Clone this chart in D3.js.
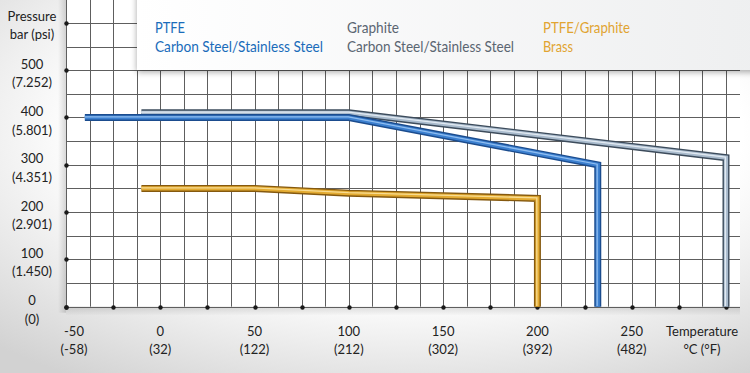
<!DOCTYPE html>
<html>
<head>
<meta charset="utf-8">
<script src="https://cdn.jsdelivr.net/npm/d3@7"></script>
<style>
  body { margin: 0; background: #fff; }
  svg { display: block; font-family: Lato, "Open Sans", sans-serif; }
</style>
</head>
<body>
<svg id="chart" width="750" height="373"></svg>
<script>
// tick labels
var tempTicks = [-50, 0, 50, 100, 150, 200, 250];
var tempF = ["(-58)", "(32)", "(122)", "(212)", "(302)", "(392)", "(482)"];
var pressTicks = [0, 100, 200, 300, 400, 500];
var pressPsi = ["(0)", "(1.450)", "(2.901)", "(4.351)", "(5.801)", "(7.252)"];

// series (temperature in C, pressure in bar)
var ptfeTemp = [-40, 100, 232, 232];
var ptfePress = [400, 400, 300, 0];
var graphiteTemp = [-10, 100, 300, 300];
var graphitePress = [410, 410, 315, 0];
var brassTemp = [-10, 50, 100, 200, 200];
var brassPress = [250, 250, 240, 229, 0];

var legendTitles = ["PTFE", "Graphite", "PTFE/Graphite"];
var legendSubs = ["Carbon Steel/Stainless Steel", "Carbon Steel/Stainless Steel", "Brass"];

var width = 750, height = 373;

var x = d3.scaleLinear().domain([-50, 300]).range([66, 726]);
var y = d3.scaleLinear().domain([0, 500]).range([306.7, 70.2]);

var svg = d3.select("#chart");
var defs = svg.append("defs");

// background shading
var bg = defs.append("radialGradient").attr("id", "bg")
    .attr("cx", "55%").attr("cy", "35%").attr("r", "80%");
bg.append("stop").attr("offset", "55%").attr("stop-color", "#ffffff");
bg.append("stop").attr("offset", "100%").attr("stop-color", "#d2d2d2");

var yShadow = defs.append("linearGradient").attr("id", "yShadow");
yShadow.append("stop").attr("offset", "0%").attr("stop-color", "#000").attr("stop-opacity", 0);
yShadow.append("stop").attr("offset", "100%").attr("stop-color", "#000").attr("stop-opacity", 0.14);

var xShadow = defs.append("linearGradient").attr("id", "xShadow")
    .attr("x1", 0).attr("y1", 0).attr("x2", 0).attr("y2", 1);
xShadow.append("stop").attr("offset", "0%").attr("stop-color", "#000").attr("stop-opacity", 0.12);
xShadow.append("stop").attr("offset", "100%").attr("stop-color", "#000").attr("stop-opacity", 0);

var boxFill = defs.append("linearGradient").attr("id", "boxFill");
boxFill.append("stop").attr("offset", "0%").attr("stop-color", "#ffffff");
boxFill.append("stop").attr("offset", "100%").attr("stop-color", "#eeeff0");

var shadow = defs.append("filter").attr("id", "shadow")
    .attr("x", "-5%").attr("y", "-20%").attr("width", "110%").attr("height", "150%");
shadow.append("feDropShadow").attr("dx", 0).attr("dy", 2)
    .attr("stdDeviation", 3).attr("flood-color", "#000").attr("flood-opacity", 0.35);

svg.append("rect").attr("width", width).attr("height", height).attr("fill", "url(#bg)");

// plot area
svg.append("rect")
    .attr("x", x(-50)).attr("y", 0)
    .attr("width", 740 - x(-50)).attr("height", y(0))
    .attr("fill", "#fff");
svg.append("rect")
    .attr("x", x(-50) - 8).attr("y", 0)
    .attr("width", 8).attr("height", y(0) + 6)
    .attr("fill", "url(#yShadow)");
svg.append("rect")
    .attr("x", x(-50)).attr("y", y(0))
    .attr("width", 740 - x(-50)).attr("height", 9)
    .attr("fill", "url(#xShadow)");

// grid
var grid = svg.append("g").attr("stroke", "#5e5e5e").attr("stroke-width", 1);
grid.selectAll(".v")
    .data(d3.range(-50, 300.1, 12.5))
  .enter().append("line")
    .attr("x1", function(d) { return Math.round(x(d)) + 0.5; })
    .attr("x2", function(d) { return Math.round(x(d)) + 0.5; })
    .attr("y1", 0)
    .attr("y2", y(0));
grid.selectAll(".h")
    .data(d3.range(0, 650.1, 50))
  .enter().append("line")
    .attr("x1", x(-50))
    .attr("x2", 740)
    .attr("y1", function(d) { return Math.round(y(d)) + 0.5; })
    .attr("y2", function(d) { return Math.round(y(d)) + 0.5; });

// tick dots
svg.append("g").selectAll("circle")
    .data(d3.range(0, 600.1, 100))
  .enter().append("circle")
    .attr("cx", x(-50) + 0.5)
    .attr("cy", function(d) { return Math.round(y(d)) + 0.5; })
    .attr("r", 2.2)
    .attr("fill", "#1a1a1a");
svg.append("g").selectAll("circle")
    .data(d3.range(-50, 300.1, 25))
  .enter().append("circle")
    .attr("cx", function(d) { return Math.round(x(d)) + 0.5; })
    .attr("cy", Math.round(y(0)) + 0.5)
    .attr("r", 2.2)
    .attr("fill", "#1a1a1a");

// lines drawn as tubes
var line = d3.line()
    .x(function(d) { return x(d[0]); })
    .y(function(d) { return y(d[1]); });

function tube(temps, press, outer, mid, light) {
  var pts = d3.zip(temps, press);
  var g = svg.append("g").attr("fill", "none").attr("stroke-linejoin", "miter");
  g.append("path").attr("d", line(pts)).attr("stroke", outer).attr("stroke-width", 7);
  g.append("path").attr("d", line(pts)).attr("stroke", mid).attr("stroke-width", 4.2);
  g.append("path").attr("d", line(pts)).attr("stroke", light).attr("stroke-width", 1.3)
      .attr("transform", "translate(-0.6,-0.6)");
}

tube(graphiteTemp, graphitePress, "#3d4c5c", "#a9bbcd", "#e2eaf2");
tube(ptfeTemp, ptfePress, "#1b4c8e", "#3c80d0", "#8fbdf0");
tube(brassTemp, brassPress, "#85590f", "#e3ab32", "#f8dc92");

// legend box
svg.append("rect")
    .attr("x", 137).attr("y", -10)
    .attr("width", 630).attr("height", 80)
    .attr("fill", "url(#boxFill)")
    .attr("filter", "url(#shadow)");

var legendX = [155, 347, 543];
var legendColors = ["#1a6cba", "#5b6672", "#e1a431"];
var subWidths = [168, 167, 30];
var titleWidths = [30, 52, 87];

var leg = svg.append("g").attr("font-size", 16);
legendTitles.forEach(function(t, i) {
  leg.append("text")
      .attr("x", legendX[i]).attr("y", 33)
      .attr("fill", legendColors[i])
      .attr("textLength", titleWidths[i])
      .attr("lengthAdjust", "spacingAndGlyphs")
      .text(t);
  leg.append("text")
      .attr("x", legendX[i]).attr("y", 52)
      .attr("fill", legendColors[i])
      .attr("textLength", subWidths[i])
      .attr("lengthAdjust", "spacingAndGlyphs")
      .text(legendSubs[i]);
});

// axis labels
var labels = svg.append("g").attr("font-size", 13).attr("fill", "#222").attr("text-anchor", "middle");

pressTicks.forEach(function(d, i) {
  labels.append("text").attr("x", 32).attr("y", y(d) - 1.5).text(d);
  labels.append("text").attr("x", 32).attr("y", y(d) + 17).text(pressPsi[i]);
});
labels.append("text").attr("x", 32).attr("y", 21).text("Pressure");
labels.append("text").attr("x", 32).attr("y", 39).text("bar (psi)");

tempTicks.forEach(function(d, i) {
  var dx = i === 0 ? 8 : 0;
  labels.append("text").attr("x", x(d) + dx).attr("y", 336).text(d);
  labels.append("text").attr("x", x(d) + dx).attr("y", 354).text(tempF[i]);
});
labels.append("text").attr("x", 702).attr("y", 336).text("Temperature");
labels.append("text").attr("x", 702).attr("y", 354).text("°C (°F)");
</script>
</body>
</html>
